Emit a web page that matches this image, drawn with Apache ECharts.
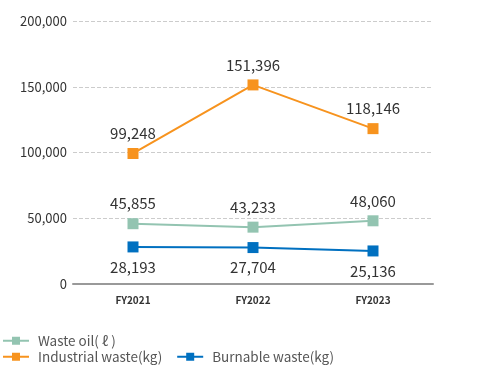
<!DOCTYPE html>
<html><head><meta charset="utf-8">
<script src="https://cdn.jsdelivr.net/npm/echarts@6/dist/echarts.min.js"></script>
<style>html,body{margin:0;padding:0;background:#fff}#c{width:478px;height:365px}</style>
</head><body><div id="c"></div>
<script>
const categories = ['FY2021', 'FY2022', 'FY2023'];
const wasteOil = [45855, 43233, 48060];
const industrialWaste = [99248, 151396, 118146];
const burnableWaste = [28193, 27704, 25136];
const yTicks = [0, 50000, 100000, 150000, 200000];

const font = "'Noto Sans CJK JP', 'Noto Sans', sans-serif";
const chart = echarts.init(document.getElementById('c'));
function ser(name, data, color, pos) {
  return {
    name, type: 'line', data, symbol: 'rect', symbolSize: 11,
    lineStyle: { color, width: 2 }, itemStyle: { color },
    label: { show: true, position: pos, distance: 7, color: '#333', fontSize: 15, fontFamily: font,
      formatter: p => p.value.toLocaleString('en-US') },
    z: 3
  };
}
const legendText = { color: '#555', fontSize: 13.5, fontFamily: font, padding: [0, 0, 0, 4] };
chart.setOption({
  animation: false,
  textStyle: { fontFamily: font },
  grid: { left: 73, right: 45, top: 21, bottom: 81 },
  legend: [
    { data: ['Waste oil( ℓ )'], left: -3, top: 329, itemWidth: 26, itemHeight: 10, itemGap: 14, textStyle: legendText },
    { data: ['Industrial waste(kg)', 'Burnable waste(kg)'], left: -3, top: 345, itemWidth: 26, itemHeight: 10, itemGap: 14, textStyle: legendText }
  ],
  xAxis: {
    type: 'category', data: categories, boundaryGap: true,
    axisLine: { lineStyle: { color: '#999', width: 2 } },
    axisTick: { show: false },
    axisLabel: { color: '#333', fontSize: 10, fontWeight: 'bold', margin: 11, fontFamily: font }
  },
  yAxis: {
    type: 'value', min: 0, max: 200000, interval: 50000,
    axisLine: { show: false }, axisTick: { show: false },
    axisLabel: { color: '#333', fontSize: 13, margin: 6, fontFamily: font,
      formatter: v => yTicks.includes(v) ? v.toLocaleString('en-US') : '' },
    splitLine: { lineStyle: { color: '#ccc', type: 'dashed' } }
  },
  series: [
    ser('Waste oil( ℓ )', wasteOil, '#93C4B1', 'top'),
    ser('Industrial waste(kg)', industrialWaste, '#F7931E', 'top'),
    ser('Burnable waste(kg)', burnableWaste, '#0070C0', 'bottom')
  ]
});
</script></body></html>
